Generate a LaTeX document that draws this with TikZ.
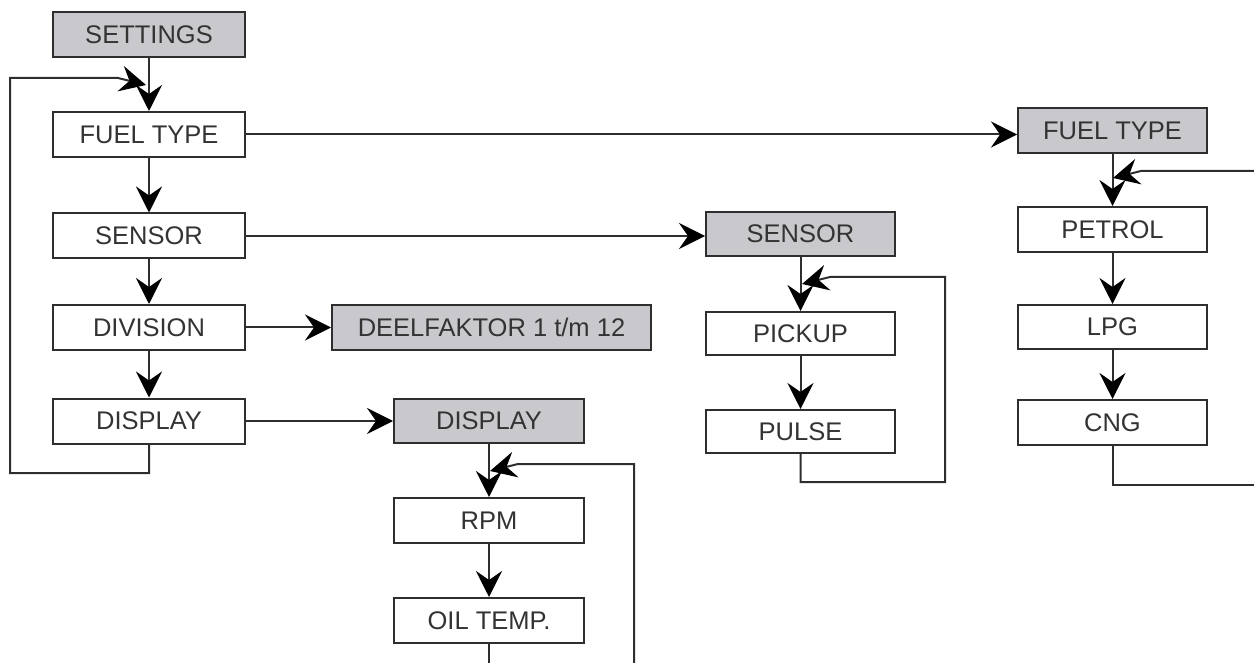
\documentclass[tikz,border=0pt]{standalone}
\usepackage{fontspec}
\setmainfont{Liberation Sans}
\usetikzlibrary{arrows.meta,calc}
\definecolor{ink}{HTML}{2E2E2E}
\definecolor{txt}{HTML}{333333}
\definecolor{boxgray}{HTML}{C9C9CD}
\begin{document}
\begin{tikzpicture}[x=1pt,y=-1pt,
  every node/.style={font=\fontsize{25.5}{30}\selectfont, text=txt},
  menubox/.style={draw=ink, line width=2pt, fill=white, minimum width=192pt, minimum height=45pt, inner sep=0pt},
  headbox/.style={menubox, fill=boxgray},
  conn/.style={draw=ink, line width=2pt},
  arr/.style={conn, -{Stealth[length=26pt,width=26pt,inset=9pt,color=black]}}]
\useasboundingbox (0,0) rectangle (1254,663);
% left column
\node[headbox] (settings) at (149,35) {SETTINGS};
\node[menubox] (fuel) at (149,134.5) {FUEL TYPE};
\node[menubox] (sensor) at (149,236) {SENSOR};
\node[menubox] (division) at (149,327.5) {DIVISION};
\node[menubox] (display) at (149,421) {DISPLAY};
% division target
\node[headbox, minimum width=319pt] (deel) at (491.5,327.5) {DEELFAKTOR 1 t/m 12};
% display column
\node[headbox, minimum width=190pt, minimum height=44pt] (disp2) at (489,421) {DISPLAY};
\node[menubox, minimum width=190pt] (rpm) at (489,520.5) {RPM};
\node[menubox, minimum width=190pt] (oil) at (489,620.5) {OIL TEMP.};
% sensor column
\node[headbox, minimum width=189pt, minimum height=44pt] (sens2) at (800.5,234) {SENSOR};
\node[menubox, minimum width=189pt, minimum height=43pt] (pickup) at (800.5,333.5) {PICKUP};
\node[menubox, minimum width=189pt, minimum height=43pt] (pulse) at (800.5,431.5) {PULSE};
% fuel column
\node[headbox, minimum width=189pt] (fuel2) at (1112.5,130.5) {FUEL TYPE};
\node[menubox, minimum width=189pt] (petrol) at (1112.5,229.5) {PETROL};
\node[menubox, minimum width=189pt, minimum height=44pt] (lpg) at (1112.5,327) {LPG};
\node[menubox, minimum width=189pt] (cng) at (1112.5,422.5) {CNG};

% vertical arrows
\draw[arr] (settings) -- (fuel);
\draw[arr] (fuel) -- (sensor);
\draw[arr] (sensor) -- (division);
\draw[arr] (division) -- (display);
\draw[arr] (disp2) -- (rpm);
\draw[arr] (rpm) -- (oil);
\draw[arr] (sens2) -- (pickup);
\draw[arr] (pickup) -- (pulse);
\draw[arr] (fuel2) -- (petrol);
\draw[arr] (petrol) -- (lpg);
\draw[arr] (lpg) -- (cng);

% horizontal arrows
\draw[arr] (fuel.east) -- (fuel.east -| fuel2.west);
\draw[arr] (sensor.east) -- (sensor.east -| sens2.west);
\draw[arr] (division.east) -- (deel.west);
\draw[arr] (display.east) -- (display.east -| disp2.west);

% left loop
\coordinate (lb) at (10,473);
\coordinate (lt) at (118,78);
\coordinate (ltip) at (146,85);
\draw[arr] (display.south) |- (lb) |- (lt) -- (ltip);
% sensor loop
\coordinate (sb) at (945,482);
\coordinate (st) at (830,277);
\coordinate (stip) at (802,284);
\draw[arr] (pulse.south) |- (sb) |- (st) -- (stip);
% display loop
\coordinate (db) at (634,663);
\coordinate (dt) at (518,464);
\coordinate (dtip) at (490,471);
\coordinate (oe) at (489,663);
\draw[conn] (oil.south) -- (oe);
\draw[arr] (db) |- (dt) -- (dtip);
% fuel loop
\coordinate (fb) at (1254,485);
\coordinate (fr) at (1254,171);
\coordinate (ft) at (1141,171);
\coordinate (ftip) at (1113,178);
\draw[conn] (cng.south) |- (fb);
\draw[arr] (fr) -- (ft) -- (ftip);
\end{tikzpicture}
\end{document}
